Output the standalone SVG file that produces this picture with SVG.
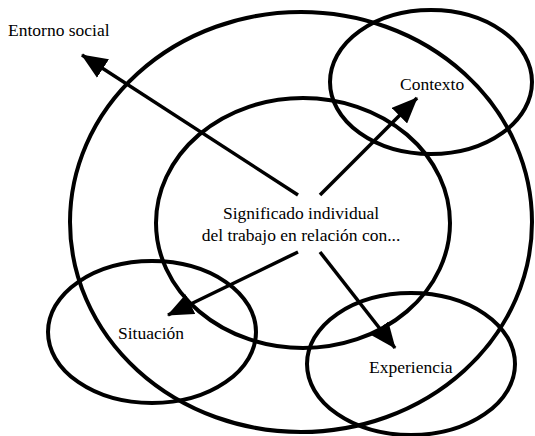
<svg xmlns="http://www.w3.org/2000/svg" width="535" height="436" viewBox="0 0 535 436">
<style>
.shape{fill:none;stroke:#000;stroke-width:4}
.lbl{font-family:"Liberation Serif","Times New Roman",serif;font-size:17.5px;fill:#000}
.conn{stroke:#000;stroke-width:3.5;fill:none;marker-end:url(#ah)}
</style>
<defs>
<marker id="ah" markerUnits="userSpaceOnUse" markerWidth="26" markerHeight="22" viewBox="0 0 26 22" refX="25" refY="11" orient="auto">
<path d="M0,0 L26,11 L0,22 Z" fill="#000"/>
</marker>
</defs>
<rect width="535" height="436" fill="#fff"/>
<g id="entorno-social">
<ellipse class="shape" cx="301" cy="222" rx="231" ry="210"/>
<text class="lbl" x="8" y="36">Entorno social</text>
</g>
<g id="significado">
<ellipse class="shape" cx="303" cy="223" rx="147" ry="125"/>
<text class="lbl" x="301" y="219" text-anchor="middle">Significado individual</text>
<text class="lbl" x="301" y="241" text-anchor="middle">del trabajo en relación con...</text>
</g>
<g id="contexto">
<ellipse class="shape" cx="431" cy="82" rx="101" ry="72"/>
<text class="lbl" x="400" y="90">Contexto</text>
</g>
<g id="situacion">
<ellipse class="shape" cx="152" cy="332" rx="104" ry="71"/>
<text class="lbl" x="118" y="339">Situación</text>
</g>
<g id="experiencia">
<ellipse class="shape" cx="411" cy="364" rx="104" ry="71"/>
<text class="lbl" x="369" y="373">Experiencia</text>
</g>
<g id="connectors">
<line class="conn" x1="298" y1="195" x2="82" y2="55"/>
<line class="conn" x1="320" y1="195" x2="417" y2="98"/>
<line class="conn" x1="298" y1="252" x2="168" y2="315"/>
<line class="conn" x1="320" y1="252" x2="395" y2="348"/>
</g>
</svg>
